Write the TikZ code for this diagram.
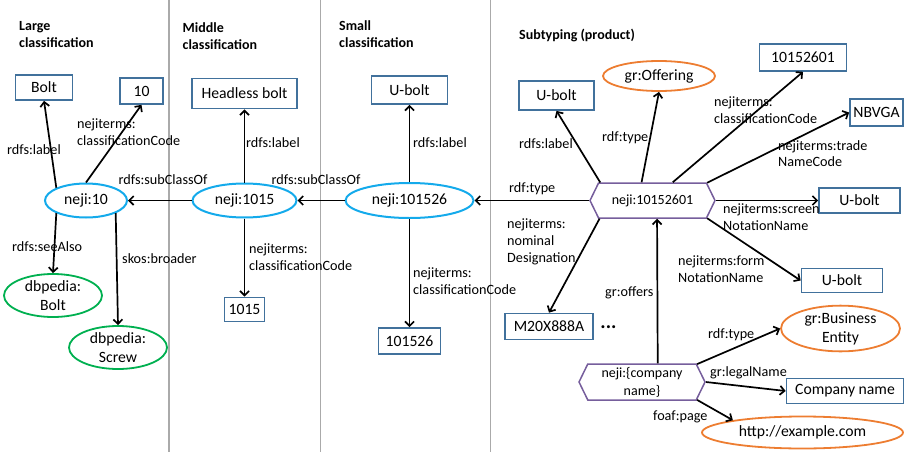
\documentclass[tikz,border=0pt]{standalone}
\usepackage{fontspec}
\setmainfont{Carlito}
\usetikzlibrary{arrows.meta,shapes.geometric,shapes.symbols}

\definecolor{boxblue}{RGB}{65,113,156}
\definecolor{classblue}{RGB}{20,170,235}
\definecolor{dbgreen}{RGB}{0,176,80}
\definecolor{vocorange}{RGB}{237,125,49}
\definecolor{hexpurple}{RGB}{118,94,156}
\definecolor{sepgray}{RGB}{170,170,170}

\tikzset{
  x=1pt, y=-1pt,
  nodefont/.style={font=\fontsize{15.7}{19}\selectfont},
  litbox/.style={draw=boxblue, line width=1.7pt, rectangle, inner sep=0pt, nodefont},
  classnode/.style={draw=classblue, line width=2pt, ellipse, inner sep=0pt, nodefont},
  dbnode/.style={draw=dbgreen, line width=1.8pt, ellipse, inner sep=0pt, align=center, nodefont},
  vocnode/.style={draw=vocorange, line width=1.8pt, ellipse, inner sep=0pt, align=center, nodefont},
  resnode/.style={draw=hexpurple, line width=1.5pt, shape=signal, signal to=west and east,
    signal pointer angle=128, inner sep=0pt, align=center,
    font=\fontsize{14}{18}\selectfont},
  rel/.style={draw=black, line width=1.7pt, -{Straight Barb[length=4.5pt,width=9pt]}},
  lbl/.style={anchor=west, inner sep=0pt, align=left, font=\fontsize{14.2}{16.7}\selectfont},
  heading/.style={anchor=west, inner sep=0pt, align=left, font=\fontsize{14}{17}\selectfont\bfseries},
  sep/.style={draw=sepgray, line width=1.3pt}
}

\begin{document}
\begin{tikzpicture}
\useasboundingbox (0,0) rectangle (904,452);

% column separators
\draw[sep] (169,0) -- (169,452);
\draw[sep] (320.5,0) -- (320.5,452);
\draw[sep] (490.5,0) -- (490.5,452);

% column headings
\node[heading] (hLarge)  at (19,35)    {Large\\classification};
\node[heading] (hMiddle) at (182.5,36) {Middle\\classification};
\node[heading] (hSmall)  at (339,34.5) {Small\\classification};
\node[heading] (hSub)    at (519,35)   {Subtyping (product)};

% ---- large classification
\node[classnode, minimum width=82pt, minimum height=34pt] (n10) at (86,200.5) {neji:10};
\node[litbox, minimum width=57pt, minimum height=25pt] (bolt) at (44,87.5) {Bolt};
\node[litbox, minimum width=43pt, minimum height=26pt] (ten) at (141.5,91) {10};
\node[dbnode, minimum width=98pt, minimum height=43pt] (dbBolt) at (53,295.5) {dbpedia:\\Bolt};
\node[dbnode, minimum width=98pt, minimum height=43pt] (dbScrew) at (118,347.5) {dbpedia:\\Screw};

\draw[rel] (n10.north west) -- (bolt.south);
\draw[rel] (n10.north) -- (ten.south);
\draw[rel] (n10.south west) -- (dbBolt.north);
\draw[rel] (n10.south east) -- (dbScrew.north);

\node[lbl] (l1) at (7,150) {rdfs:label};
\node[lbl] (l2) at (77,132) {nejiterms:\\classificationCode};
\node[lbl] (l3) at (12,247) {rdfs:seeAlso};
\node[lbl] (l4) at (122,259) {skos:broader};

% ---- middle classification
\node[classnode, minimum width=104pt, minimum height=34pt] (n1015) at (244.5,200.5) {neji:1015};
\node[litbox, minimum width=105pt, minimum height=30pt] (headless) at (244.5,93.5) {Headless bolt};
\node[litbox, minimum width=40pt, minimum height=24pt] (c1015) at (244.5,309.5) {1015};

\draw[rel] (n1015.north) -- (headless.south);
\draw[rel] (n1015.south) -- (c1015.north);
\draw[rel] (n1015.west) -- (n10.east);

\node[lbl] (l5) at (118.5,180) {rdfs:subClassOf};
\node[lbl] (l6) at (246,143) {rdfs:label};
\node[lbl] (l7) at (249,257.5) {nejiterms:\\classificationCode};

% ---- small classification
\node[classnode, minimum width=128pt, minimum height=35pt] (n101526) at (409.5,200.5) {neji:101526};
\node[litbox, minimum width=76pt, minimum height=28pt] (ubolt) at (409.5,90) {U-bolt};
\node[litbox, minimum width=62pt, minimum height=26pt] (c101526) at (409.5,341) {101526};

\draw[rel] (n101526.north) -- (ubolt.south);
\draw[rel] (n101526.south) -- (c101526.north);
\draw[rel] (n101526.west) -- (n1015.east);

\node[lbl] (l8) at (271.5,180) {rdfs:subClassOf};
\node[lbl] (l9) at (413,143) {rdfs:label};
\node[lbl] (l10) at (413,281) {nejiterms:\\classificationCode};

% ---- subtyping (product)
\node[resnode, minimum width=125pt, minimum height=35pt] (prod) at (652.5,200.5) {neji:10152601};
\node[litbox, minimum width=75pt, minimum height=29pt] (pLabel) at (556.5,95.5) {U-bolt};
\node[vocnode, minimum width=112pt, minimum height=30pt] (offering) at (659,76) {gr:Offering};
\node[litbox, minimum width=87pt, minimum height=27pt] (pCode) at (803,57.5) {10152601};
\node[litbox, minimum width=53pt, minimum height=27pt] (trade) at (876.5,112.5) {NBVGA};
\node[litbox, minimum width=81pt, minimum height=25pt] (screen) at (859.5,200.5) {U-bolt};
\node[litbox, minimum width=81pt, minimum height=24pt] (form) at (842,280.5) {U-bolt};
\node[litbox, minimum width=88pt, minimum height=26pt] (nominal) at (549,326.5) {M20X888A};
\node[inner sep=0pt, font=\fontsize{20}{20}\selectfont\bfseries] (more) at (608.5,327) {...};

\node[resnode, minimum width=126pt, minimum height=36pt] (comp) at (642,382) {neji:\{company\\name\}};
\node[vocnode, minimum width=119pt, minimum height=37pt] (bizent) at (840.5,328.5) {gr:Business\\Entity};
\node[litbox, minimum width=117pt, minimum height=25pt] (cname) at (845,391) {Company name};
\node[vocnode, minimum width=201pt, minimum height=32pt] (home) at (802.5,432.5) {http://example.com};

\draw[rel] (n101526.east -| prod.west) -- (n101526.east);
\draw[rel] (prod.161.7) -- (pLabel.south);
\draw[rel] (prod.121.7) -- (offering.south);
\draw[rel] (prod.42.3) -- (pCode.south);
\draw[rel] (prod.18.2) -- (trade.west);
\draw[rel] (prod.east) -- (screen.west);
\draw[rel] (prod.-18.2) -- (form.west);
\draw[rel] (prod.-161.7) -- (nominal.north);

\draw[rel] (comp.50.8) -- (prod.-76.5);
\draw[rel] (comp.18) -- (bizent.west);
\draw[rel] (comp.east) -- (cname.west);
\draw[rel] (comp.-18) -- (home.170);

\node[lbl] (l11) at (509,189) {rdf:type};
\node[lbl] (l12) at (519,144) {rdfs:label};
\node[lbl] (l13) at (602,138) {rdf:type};
\node[lbl] (l14) at (714,110) {nejiterms:\\classificationCode};
\node[lbl] (l15) at (778,153.5) {nejiterms:trade\\NameCode};
\node[lbl] (l16) at (723,217.5) {nejiterms:screen\\NotationName};
\node[lbl] (l17) at (678,269.5) {nejiterms:form\\NotationName};
\node[lbl] (l18) at (507,241.7) {nejiterms:\\nominal\\Designation};
\node[lbl] (l19) at (605,293) {gr:offers};
\node[lbl] (l20) at (708,335) {rdf:type};
\node[lbl] (l21) at (710,372.7) {gr:legalName};
\node[lbl] (l22) at (653,416.7) {foaf:page};
\end{tikzpicture}
\end{document}
